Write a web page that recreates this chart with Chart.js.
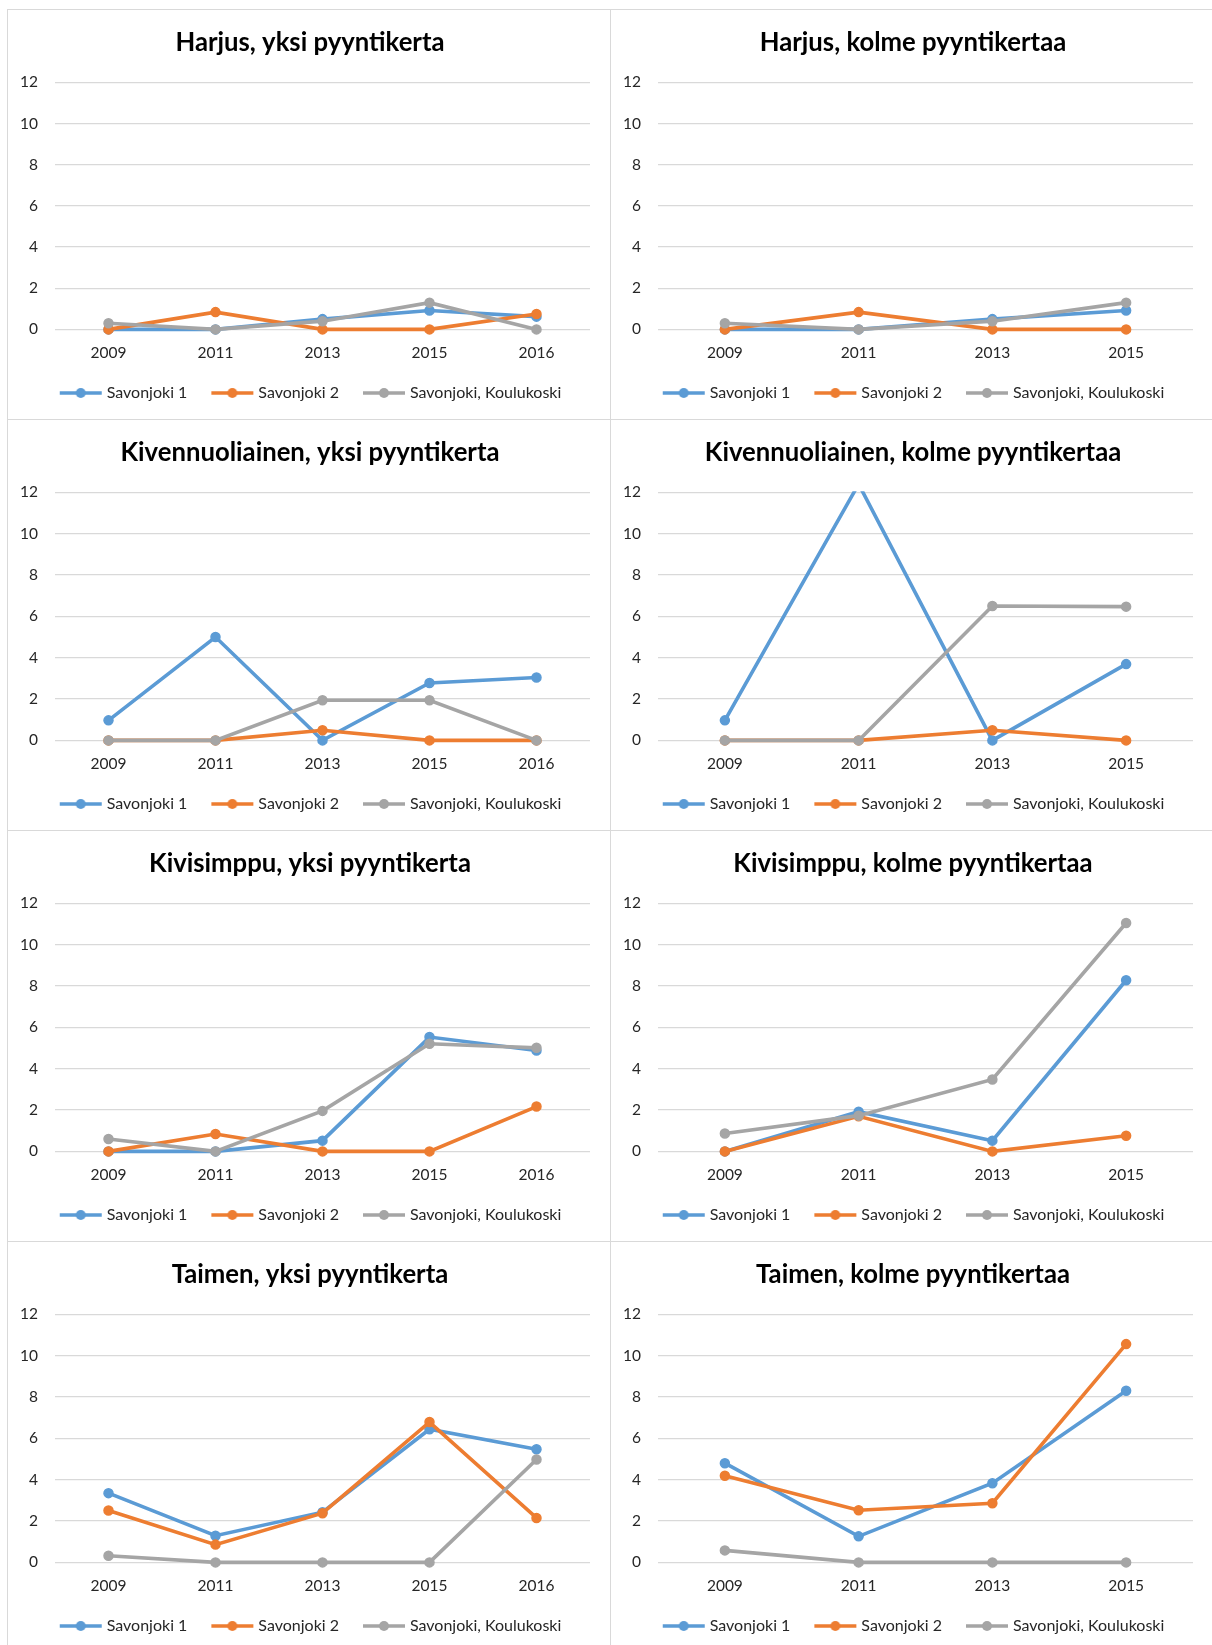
<!DOCTYPE html>
<html>
<head>
<meta charset="utf-8">
<script src="https://cdn.jsdelivr.net/npm/chart.js"></script>
<style>
  body { margin: 0; background: #fff; }
  #grid {
    position: absolute; left: 7px; top: 9px;
    display: grid;
    grid-template-columns: 603px 603px;
    grid-template-rows: 410px 411px 411px 411px;
    border-left: 1px solid #d9d9d9;
    border-top: 1px solid #d9d9d9;
  }
  .cell { border-right: 1px solid #d9d9d9; border-bottom: 1px solid #d9d9d9; }
  canvas { display: block; }
</style>
</head>
<body>
<div id="grid">
  <div class="cell"><canvas id="c0" width="603" height="410"></canvas></div>
  <div class="cell"><canvas id="c1" width="603" height="410"></canvas></div>
  <div class="cell"><canvas id="c2" width="603" height="411"></canvas></div>
  <div class="cell"><canvas id="c3" width="603" height="411"></canvas></div>
  <div class="cell"><canvas id="c4" width="603" height="411"></canvas></div>
  <div class="cell"><canvas id="c5" width="603" height="411"></canvas></div>
  <div class="cell"><canvas id="c6" width="603" height="411"></canvas></div>
  <div class="cell"><canvas id="c7" width="603" height="411"></canvas></div>
</div>
<script>
// Vuodet (yksi pyyntikerta = 5 vuotta, kolme = 4 vuotta)
const years1 = ['2009', '2011', '2013', '2015', '2016'];
const years3 = ['2009', '2011', '2013', '2015'];
const seriesNames = ['Savonjoki 1', 'Savonjoki 2', 'Savonjoki, Koulukoski'];
const yTicks = [0, 2, 4, 6, 8, 10, 12];

// Harjus
const harjus1_s1 = [0, 0, 0.5, 0.92, 0.62];
const harjus1_s2 = [0, 0.84, 0, 0, 0.75];
const harjus1_kk = [0.3, 0, 0.4, 1.3, 0];
const harjus3_s1 = [0, 0, 0.5, 0.92];
const harjus3_s2 = [0, 0.84, 0, 0];
const harjus3_kk = [0.3, 0, 0.4, 1.3];

// Kivennuoliainen
const kivennuo1_s1 = [0.97, 5.0, 0, 2.78, 3.04];
const kivennuo1_s2 = [0, 0, 0.49, 0, 0];
const kivennuo1_kk = [0, 0, 1.94, 1.94, 0];
const kivennuo3_s1 = [0.97, 12.4, 0, 3.69];
const kivennuo3_s2 = [0, 0, 0.49, 0];
const kivennuo3_kk = [0, 0, 6.5, 6.47];

// Kivisimppu
const kivisim1_s1 = [0, 0, 0.52, 5.53, 4.88];
const kivisim1_s2 = [0, 0.84, 0, 0, 2.17];
const kivisim1_kk = [0.6, 0, 1.96, 5.21, 5.01];
const kivisim3_s1 = [0, 1.92, 0.52, 8.28];
const kivisim3_s2 = [0, 1.7, 0, 0.76];
const kivisim3_kk = [0.87, 1.73, 3.48, 11.05];

// Taimen
const taimen1_s1 = [3.35, 1.29, 2.43, 6.44, 5.47];
const taimen1_s2 = [2.51, 0.86, 2.38, 6.79, 2.15];
const taimen1_kk = [0.32, 0, 0, 0, 4.98];
const taimen3_s1 = [4.8, 1.26, 3.83, 8.3];
const taimen3_s2 = [4.19, 2.52, 2.86, 10.56];
const taimen3_kk = [0.58, 0, 0, 0];

const colors = ['#5b9bd5', '#ed7d31', '#a5a5a5'];
const textColor = '#262626';

// Kaaviot järjestyksessä
const charts = [
  { id: 'c0', title: 'Harjus, yksi pyyntikerta', labels: years1, data: [harjus1_s1, harjus1_s2, harjus1_kk] },
  { id: 'c1', title: 'Harjus, kolme pyyntikertaa', labels: years3, data: [harjus3_s1, harjus3_s2, harjus3_kk] },
  { id: 'c2', title: 'Kivennuoliainen, yksi pyyntikerta', labels: years1, data: [kivennuo1_s1, kivennuo1_s2, kivennuo1_kk] },
  { id: 'c3', title: 'Kivennuoliainen, kolme pyyntikertaa', labels: years3, data: [kivennuo3_s1, kivennuo3_s2, kivennuo3_kk] },
  { id: 'c4', title: 'Kivisimppu, yksi pyyntikerta', labels: years1, data: [kivisim1_s1, kivisim1_s2, kivisim1_kk] },
  { id: 'c5', title: 'Kivisimppu, kolme pyyntikertaa', labels: years3, data: [kivisim3_s1, kivisim3_s2, kivisim3_kk] },
  { id: 'c6', title: 'Taimen, yksi pyyntikerta', labels: years1, data: [taimen1_s1, taimen1_s2, taimen1_kk] },
  { id: 'c7', title: 'Taimen, kolme pyyntikertaa', labels: years3, data: [taimen3_s1, taimen3_s2, taimen3_kk] }
];

// Selitteen merkki: viiva ja pallo keskellä
function legendMark(color) {
  const c = document.createElement('canvas');
  c.width = 44; c.height = 12;
  const g = c.getContext('2d');
  g.strokeStyle = color; g.lineWidth = 3.5;
  g.beginPath(); g.moveTo(1, 6); g.lineTo(43, 6); g.stroke();
  g.fillStyle = color;
  g.beginPath(); g.arc(22, 6, 5, 0, Math.PI * 2); g.fill();
  return c;
}
const marks = colors.map(legendMark);

// Siirretään otsikkoa ja selitettä hieman oikealle
const boxShift = {
  id: 'boxShift',
  afterLayout(chart) {
    chart.legend.left += 13;
    chart.legend.right += 13;
    chart.titleBlock.left += 11;
    chart.titleBlock.right += 11;
  }
};

charts.forEach(cfg => {
  const ctx = document.getElementById(cfg.id).getContext('2d');
  new Chart(ctx, {
    type: 'line',
    data: {
      labels: cfg.labels,
      datasets: cfg.data.map((values, i) => ({
        label: seriesNames[i],
        data: values,
        borderColor: colors[i],
        backgroundColor: colors[i],
        pointBackgroundColor: colors[i],
        pointBorderColor: colors[i],
        pointStyle: 'circle',
        pointRadius: 4.5,
        pointBorderWidth: 1.5,
        borderWidth: 3.6,
        tension: 0,
        order: 2 - i,
        clip: { left: false, top: 1, right: false, bottom: false }
      }))
    },
    options: {
      responsive: false,
      animation: false,
      layout: { padding: { left: 0, right: 21, top: 0, bottom: 9 } },
      plugins: {
        title: {
          display: true,
          text: cfg.title,
          color: '#000',
          font: { family: 'Lato', size: 25.7, weight: 'bold' },
          padding: { top: 17, bottom: 24.5 }
        },
        legend: {
          position: 'bottom',
          labels: {
            usePointStyle: true,
            pointStyleWidth: 36,
            padding: 27,
            color: textColor,
            font: { family: 'Lato', size: 16 },
            sort: (a, b) => a.datasetIndex - b.datasetIndex,
            generateLabels(chart) {
              return chart.data.datasets.map((ds, i) => ({
                text: ds.label,
                pointStyle: marks[i],
                fillStyle: colors[i],
                strokeStyle: colors[i],
                lineWidth: 0,
                datasetIndex: i,
                hidden: false,
                fontColor: textColor
              }));
            }
          }
        },
        tooltip: { enabled: false }
      },
      scales: {
        x: {
          offset: true,
          grid: { display: false, drawTicks: false },
          border: { display: false },
          afterFit(axis) { axis.height -= 18; },
          ticks: { color: textColor, font: { family: 'Lato', size: 15.5 }, padding: 14, maxRotation: 0 }
        },
        y: {
          min: 0,
          max: 12,
          afterBuildTicks(axis) { axis.ticks = yTicks.map(v => ({ value: v })); },
          afterFit(axis) { axis.width = 47; },
          grid: { color: '#d9d9d9', lineWidth: 1.3, drawTicks: false },
          border: { display: false },
          ticks: { color: textColor, font: { family: 'Lato', size: 15.5 }, padding: 17 }
        }
      }
    },
    plugins: [boxShift]
  });
});
</script>
</body>
</html>
